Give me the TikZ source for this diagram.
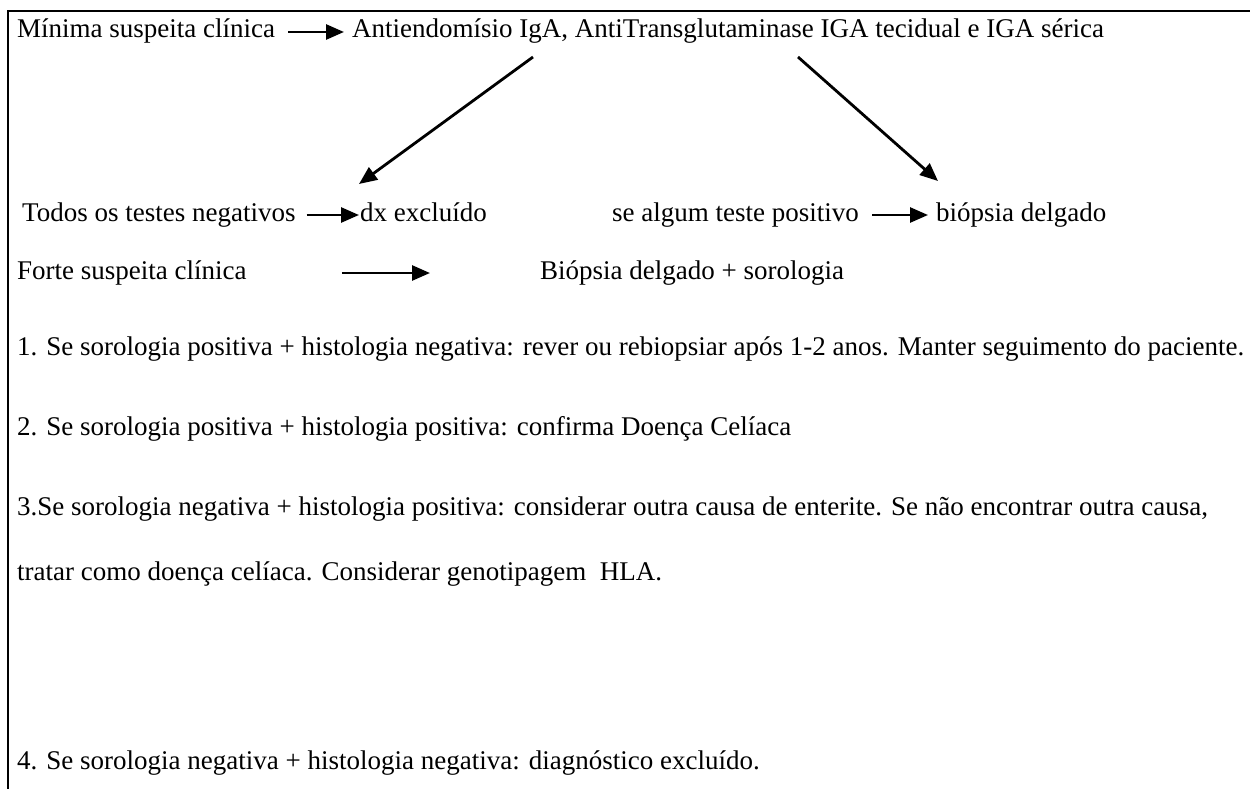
\documentclass[tikz,border=0pt]{standalone}
\usepackage{fontspec}
\setmainfont{Liberation Serif}
\usetikzlibrary{arrows.meta}
\begin{document}
\begin{tikzpicture}[x=1pt,y=1pt,
  txt/.style={anchor=base west,inner sep=0pt,font=\fontsize{27}{32}\selectfont,text height=18pt,text depth=6pt},
  arr/.style={line width=2.8pt,-{Triangle[length=18pt,width=15pt]}},
  frame/.style={line width=2.8pt}]
\useasboundingbox (0,0) rectangle (1250,-789);
\draw[frame] (1250,-11) -- (8,-11) -- (8,-789);
% row 1
\node[txt] (min) at (17,-38) {Mínima suspeita clínica};
\node[txt] (anti) at (352,-38) {Antiendomísio IgA, AntiTransglutaminase IGA tecidual e IGA sérica};
\draw[arr,shorten <=13pt,shorten >=8pt] (min.east) -- (anti.west);
% row 2
\node[txt] (todos) at (22,-221) {Todos os testes negativos};
\node[txt] (dx) at (360,-221) {dx excluído};
\node[txt] (se) at (612,-221) {se algum teste positivo};
\node[txt] (bio) at (936,-221) {biópsia delgado};
\draw[arr,shorten <=11pt,shorten >=1pt] (todos.east) -- (dx.west);
\draw[arr,shorten <=13pt,shorten >=8pt] (se.east) -- (bio.west);
% diagonals
\coordinate (d1s) at (533,-57);
\coordinate (d1e) at (359,-184);
\coordinate (d2s) at (798,-57);
\coordinate (d2e) at (938,-181);
\draw[arr] (d1s) -- (d1e);
\draw[arr] (d2s) -- (d2e);
% row 3
\node[txt] (forte) at (17,-279) {Forte suspeita clínica};
\node[txt] (biop) at (540,-279) {Biópsia delgado + sorologia};
\draw[arr,shorten <=95pt,shorten >=110pt] (forte.east) -- (biop.west);
% items
\node[txt] (i1) at (17,-355) {1. Se sorologia positiva + histologia negativa: rever ou rebiopsiar após 1-2 anos. Manter seguimento do paciente.};
\node[txt] (i2) at (17,-435) {2. Se sorologia positiva + histologia positiva: confirma Doença Celíaca};
\node[txt] (i3) at (17,-515) {3.Se sorologia negativa + histologia positiva: considerar outra causa de enterite. Se não encontrar outra causa,};
\node[txt] (i3b) at (17,-580) {tratar como doença celíaca. Considerar genotipagem\ \ HLA.};
\node[txt] (i4) at (17,-769) {4. Se sorologia negativa + histologia negativa: diagnóstico excluído.};
\end{tikzpicture}
\end{document}
